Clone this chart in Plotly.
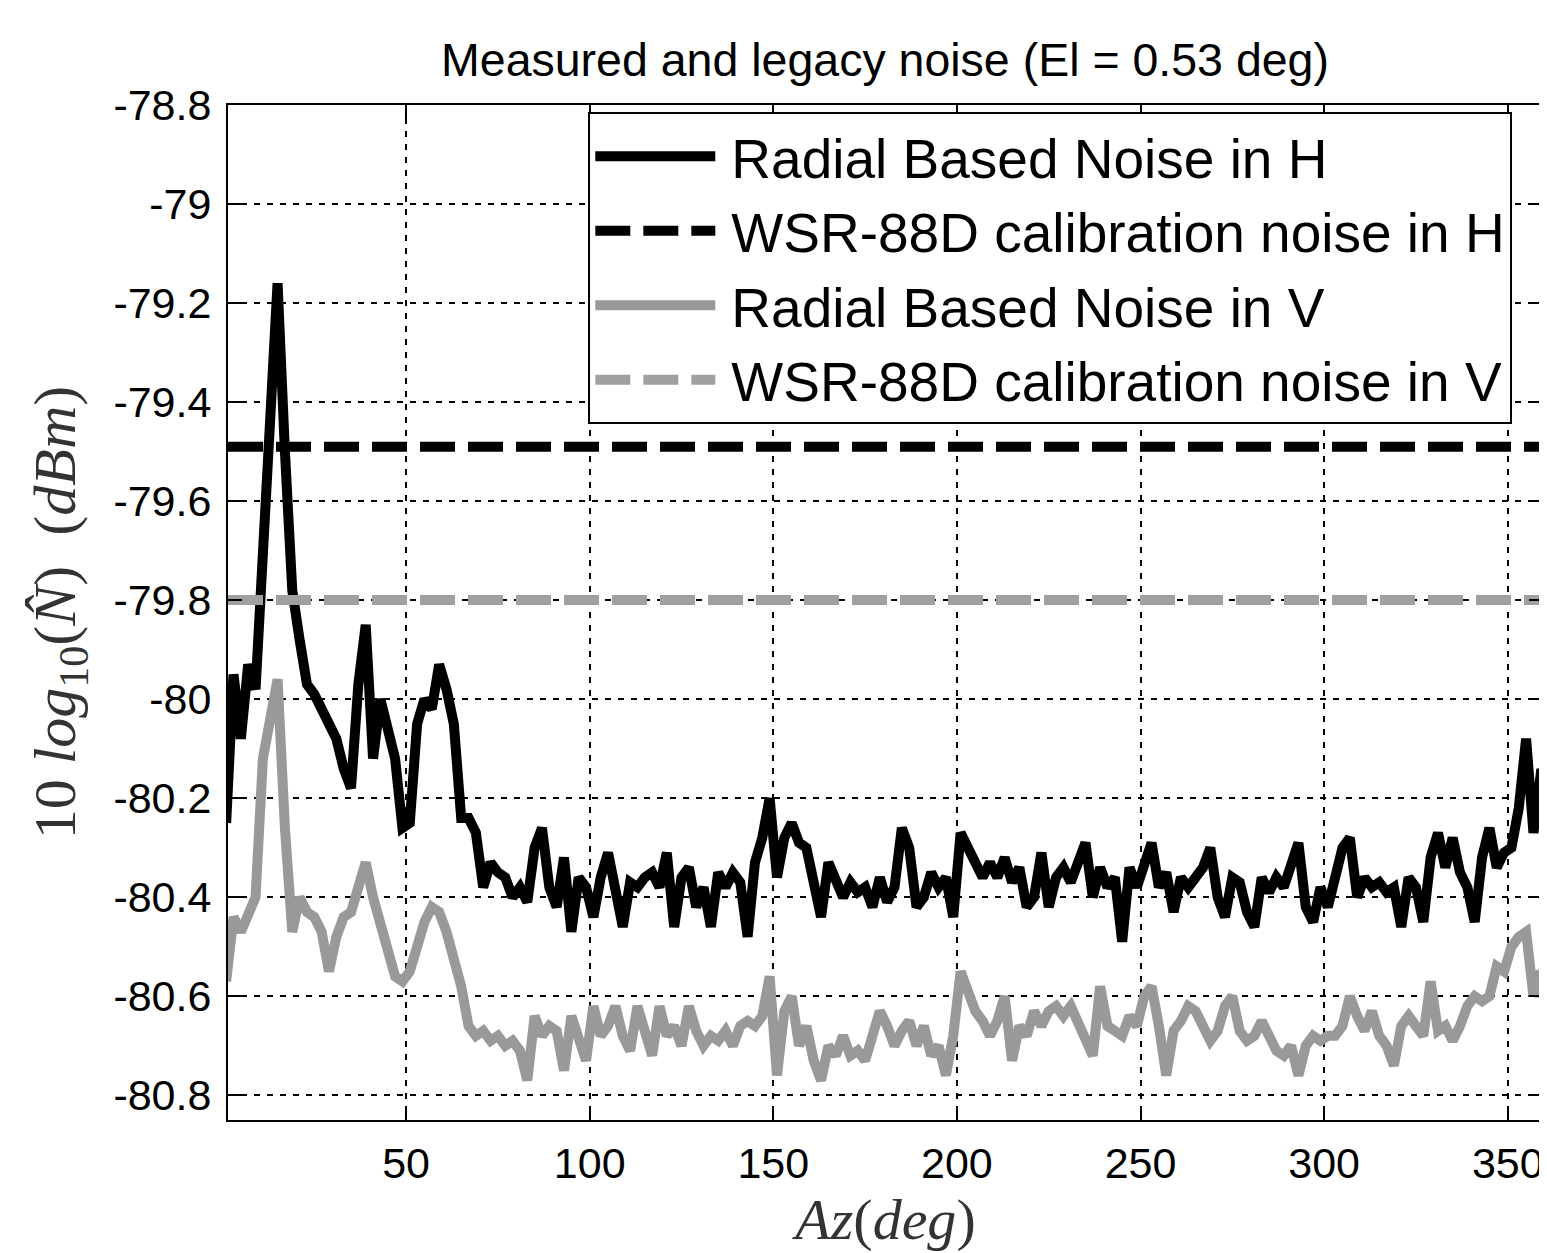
import plotly.graph_objects as go

az = list(range(1, 360, 2)) + [360]

noise_h = [
    -80.25, -79.95, -80.08, -79.93, -79.98, -79.68, -79.40, -79.16, -79.50, -79.78,
    -79.88, -79.97, -79.99, -80.02, -80.05, -80.08, -80.14, -80.18, -79.97, -79.85,
    -80.12, -80.00, -80.06, -80.12, -80.26, -80.25, -80.05, -80.00, -80.02, -79.93,
    -79.98, -80.05, -80.24, -80.24, -80.27, -80.38, -80.33, -80.35, -80.36, -80.40,
    -80.38, -80.41, -80.30, -80.26, -80.38, -80.42, -80.32, -80.47, -80.36, -80.38,
    -80.44, -80.36, -80.31, -80.40, -80.46, -80.37, -80.38, -80.36, -80.35, -80.38,
    -80.31, -80.46, -80.36, -80.34, -80.42, -80.38, -80.46, -80.35, -80.38, -80.35,
    -80.37, -80.48, -80.33, -80.28, -80.20, -80.36, -80.28, -80.25, -80.29, -80.30,
    -80.38, -80.44, -80.33, -80.36, -80.40, -80.37, -80.39, -80.38, -80.42, -80.36,
    -80.41, -80.38, -80.26, -80.30, -80.42, -80.40, -80.35, -80.38, -80.36, -80.44,
    -80.27, -80.30, -80.33, -80.36, -80.33, -80.36, -80.32, -80.37, -80.34, -80.42,
    -80.40, -80.31, -80.42, -80.36, -80.34, -80.37, -80.33, -80.29, -80.40, -80.34,
    -80.38, -80.36, -80.49, -80.34, -80.38, -80.33, -80.29, -80.38, -80.35, -80.43,
    -80.36, -80.38, -80.36, -80.34, -80.30, -80.40, -80.44, -80.36, -80.37, -80.43,
    -80.46, -80.36, -80.39, -80.36, -80.38, -80.33, -80.29, -80.42, -80.45, -80.38,
    -80.42, -80.36, -80.30, -80.28, -80.40, -80.36, -80.38, -80.37, -80.39, -80.38,
    -80.46, -80.36, -80.38, -80.45, -80.32, -80.27, -80.34, -80.28, -80.35, -80.38,
    -80.45, -80.32, -80.26, -80.34, -80.31, -80.30, -80.22, -80.08, -80.27, -80.15,
    -80.15,
]

noise_v = [
    -80.57, -80.44, -80.47, -80.44, -80.40, -80.12, -80.05, -79.96, -80.26, -80.47,
    -80.40, -80.43, -80.44, -80.47, -80.55, -80.48, -80.44, -80.43, -80.38, -80.33,
    -80.40, -80.46, -80.50, -80.56, -80.57, -80.55, -80.50, -80.45, -80.42, -80.43,
    -80.47, -80.52, -80.58, -80.66, -80.68, -80.67, -80.69, -80.68, -80.70, -80.69,
    -80.71, -80.77, -80.64, -80.68, -80.66, -80.67, -80.75, -80.64, -80.68, -80.73,
    -80.62, -80.68, -80.66, -80.62, -80.68, -80.71, -80.62, -80.68, -80.72, -80.62,
    -80.68, -80.66, -80.70, -80.62, -80.67, -80.70, -80.68, -80.69, -80.67, -80.70,
    -80.66, -80.65, -80.66, -80.64, -80.56, -80.76, -80.63, -80.60, -80.70, -80.66,
    -80.73, -80.77, -80.70, -80.72, -80.68, -80.72, -80.71, -80.73, -80.68, -80.63,
    -80.66, -80.70, -80.67, -80.65, -80.70, -80.66, -80.72, -80.70, -80.76, -80.68,
    -80.55, -80.59, -80.63, -80.65, -80.68, -80.65, -80.60, -80.73, -80.66, -80.68,
    -80.63, -80.66, -80.63, -80.62, -80.64, -80.62, -80.65, -80.68, -80.72, -80.58,
    -80.66, -80.67, -80.68, -80.64, -80.66, -80.60, -80.58, -80.66, -80.76, -80.67,
    -80.65, -80.62, -80.63, -80.66, -80.69, -80.67, -80.62, -80.60, -80.67, -80.69,
    -80.68, -80.65, -80.68, -80.71, -80.72, -80.70, -80.76, -80.70, -80.68, -80.69,
    -80.68, -80.68, -80.66, -80.60, -80.64, -80.67, -80.63, -80.68, -80.70, -80.74,
    -80.66, -80.64, -80.66, -80.68, -80.57, -80.67, -80.66, -80.69, -80.66, -80.62,
    -80.60, -80.61, -80.60, -80.54, -80.55, -80.50, -80.48, -80.47, -80.60, -80.55,
    -80.56,
]

cal_h = -79.49
cal_v = -79.80
x_span = [1.5, 359.6]

y_ticks = [-78.8, -79.0, -79.2, -79.4, -79.6, -79.8, -80.0, -80.2, -80.4, -80.6, -80.8]
y_labels = ["-78.8", "-79", "-79.2", "-79.4", "-79.6", "-79.8", "-80", "-80.2", "-80.4", "-80.6", "-80.8"]
x_ticks = [50, 100, 150, 200, 250, 300, 350]
x_labels = ["50", "100", "150", "200", "250", "300", "350"]

BLACK = "#000000"
GREY = "#999999"

fig = go.Figure()
fig.add_trace(go.Scatter(x=az, y=noise_h, mode="lines", name="\u2009Radial Based Noise in H",
                         line=dict(color=BLACK, width=10)))
fig.add_trace(go.Scatter(x=x_span, y=[cal_h, cal_h], mode="lines", name="\u2009WSR-88D calibration noise in H",
                         line=dict(color=BLACK, width=10, dash="35px,13px")))
fig.add_trace(go.Scatter(x=az, y=noise_v, mode="lines", name="\u2009Radial Based Noise in V",
                         line=dict(color=GREY, width=10)))
fig.add_trace(go.Scatter(x=x_span, y=[cal_v, cal_v], mode="lines", name="\u2009WSR-88D calibration noise in V",
                         line=dict(color="#a0a0a0", width=10, dash="35px,13px")))

axis_common = dict(
    showline=True, linecolor="black", linewidth=2, mirror="ticks",
    ticks="inside", ticklen=14, tickwidth=2, tickcolor="black",
    showgrid=True, gridcolor="black", gridwidth=2, griddash="6px,7px",
    zeroline=False,
    tickfont=dict(family="Liberation Sans", size=43, color="black"),
)

fig.update_layout(
    width=1541, height=1245,
    margin=dict(l=220, r=4, t=97, b=133),
    paper_bgcolor="white", plot_bgcolor="white",
    title=dict(text="Measured and legacy noise (El = 0.53 deg)", x=(877 / 1541), xanchor="center",
               y=1 - 52 / 1245, yanchor="middle",
               font=dict(family="Liberation Sans", size=46.5, color="black")),
    xaxis=dict(range=x_span, tickvals=x_ticks, ticktext=x_labels, ticklabelstandoff=4,
               title=dict(text="<i>Az</i>(<i>deg</i>)", standoff=12,
                          font=dict(family="Liberation Serif", size=58, color="#333333")),
               **axis_common),
    yaxis=dict(range=[-80.85, -78.8], tickvals=y_ticks, ticktext=y_labels, ticklabelstandoff=6,
               title=dict(text="10 <i>log</i><sub>10</sub>(<i>N\u0302</i>)  (<i>dBm</i>)", standoff=18,
                          font=dict(family="Liberation Serif", size=60, color="#333333")),
               **axis_common),
    legend=dict(x=0.274, y=0.993, xanchor="left", yanchor="top",
                bgcolor="white", bordercolor="black", borderwidth=2,
                font=dict(family="Liberation Sans", size=55, color="black"),
                itemwidth=120, tracegroupgap=0),
    showlegend=True,
)

fig.write_html("out.html")
